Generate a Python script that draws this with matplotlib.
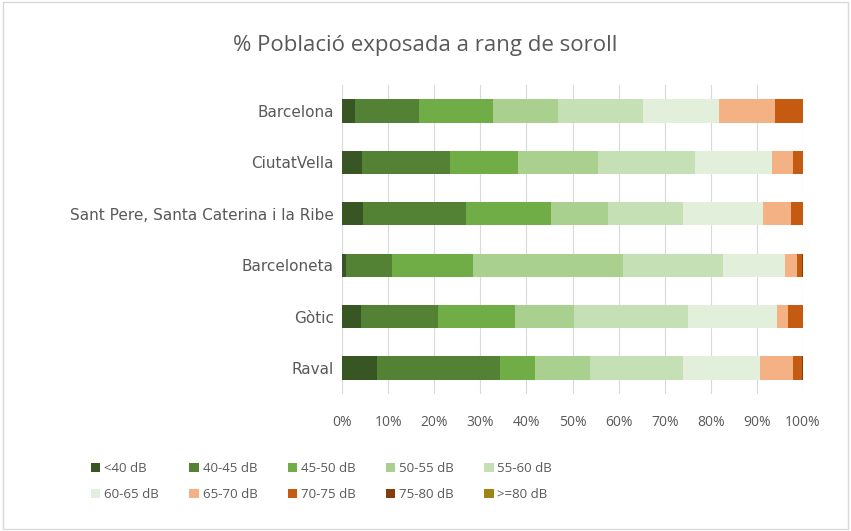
import matplotlib
matplotlib.use("Agg")
import matplotlib.pyplot as plt
from matplotlib.patches import Rectangle
import numpy as np

categories = ["Barcelona", "CiutatVella", "Sant Pere, Santa Caterina i la Ribe", "Barceloneta", "Gòtic", "Raval"]
bands = ["<40 dB", "40-45 dB", "45-50 dB", "50-55 dB", "55-60 dB",
         "60-65 dB", "65-70 dB", "70-75 dB", "75-80 dB", ">=80 dB"]
lt40 = [2.9, 4.3, 4.5, 0.9, 4.1, 7.6]
b40_45 = [13.9, 19.1, 22.5, 9.9, 16.8, 26.7]
b45_50 = [16.0, 14.8, 18.3, 17.6, 16.6, 7.6]
b50_55 = [14.1, 17.4, 12.5, 32.5, 12.8, 11.9]
b55_60 = [18.3, 21.0, 16.2, 21.8, 24.8, 20.1]
b60_65 = [16.6, 16.6, 17.4, 13.4, 19.2, 16.8]
b65_70 = [12.1, 4.7, 6.0, 2.7, 2.5, 7.1]
b70_75 = [6.1, 2.1, 2.5, 0.9, 3.2, 2.0]
b75_80 = [0.0, 0.0, 0.1, 0.2, 0.0, 0.1]
ge80 = [0.0, 0.0, 0.0, 0.0, 0.0, 0.0]
series = [lt40, b40_45, b45_50, b50_55, b55_60, b60_65, b65_70, b70_75, b75_80, ge80]
colors = ["#375623", "#548235", "#70AD47", "#A9D08E", "#C5E0B4",
          "#E2EFDA", "#F4B183", "#C55A11", "#843C0C", "#9C8514"]

plt.rcParams['font.family'] = ['Open Sans', 'DejaVu Sans']
txt = "#595959"

fig = plt.figure(figsize=(8.51, 5.31), dpi=100)
fig.patches.append(Rectangle((0.003, 0.003), 0.994, 0.994, transform=fig.transFigure,
                             fill=False, edgecolor="#D9D9D9", linewidth=1))
ax = fig.add_axes([0.4019, 0.2586, 0.5417, 0.5808])

y = np.arange(len(categories))
left = np.zeros(len(categories))
for vals, col, lab in zip(series, colors, bands):
    v = np.array(vals, dtype=float)
    ax.barh(y, v, left=left, height=0.45, color=col, label=lab, linewidth=0)
    left += v

ax.set_xlim(0, 100)
ax.set_ylim(len(categories) - 0.5, -0.5)
ax.set_yticks(y)
ax.set_yticklabels(categories, fontsize=11, color=txt, family=['DejaVu Sans'])
xt = np.arange(0, 101, 10)
ax.set_xticks(xt)
ax.set_xticklabels([f"{t}%" for t in xt], fontsize=10, color=txt)
ax.tick_params(axis="y", length=0, pad=6)
ax.tick_params(axis="x", length=0, pad=15)
ax.grid(axis="x", color="#D9D9D9", linewidth=0.8)
ax.set_axisbelow(True)
for s in ax.spines.values():
    s.set_visible(False)

fig.text(0.5, 0.915, "% Població exposada a rang de soroll", ha="center", va="center",
         fontsize=16, color=txt)

handles, labels = ax.get_legend_handles_labels()
order = [0, 5, 1, 6, 2, 7, 3, 8, 4, 9]
leg = fig.legend([handles[i] for i in order], [labels[i] for i in order],
                 loc="center", bbox_to_anchor=(0.378, 0.093), ncol=5,
                 frameon=False, fontsize=9.5, handlelength=0.7, handleheight=0.7,
                 handletextpad=0.3, columnspacing=2.3, labelspacing=0.95)
for t in leg.get_texts():
    t.set_color(txt)

fig.savefig("out.png", dpi=100)
